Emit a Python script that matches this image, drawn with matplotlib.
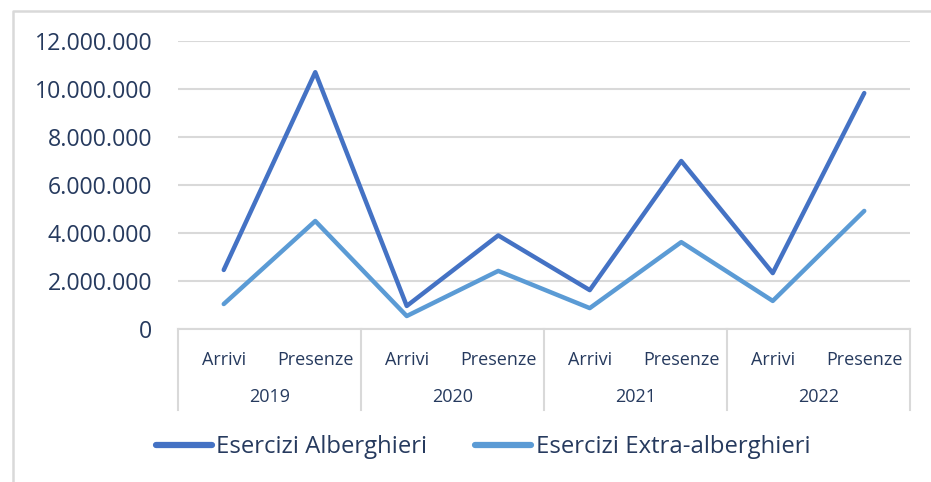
import matplotlib
matplotlib.use('Agg')
import matplotlib.pyplot as plt
from matplotlib.lines import Line2D
from matplotlib.ticker import FuncFormatter

# ===== DATA =====
years = ['2019', '2020', '2021', '2022']
measures = ['Arrivi', 'Presenze']
alberghieri = [2460000, 10700000, 960000, 3900000, 1620000, 7000000, 2330000, 9830000]
extra = [1040000, 4500000, 540000, 2420000, 870000, 3620000, 1170000, 4920000]
y_ticks = [0, 2000000, 4000000, 6000000, 8000000, 10000000, 12000000]

TEXT = '#263a5e'
GRID = '#d9d9d9'
C_ALB = '#4472c4'
C_EXT = '#5b9bd5'

plt.rcParams['font.family'] = ['Open Sans', 'DejaVu Sans']

W, H = 931, 482
fig = plt.figure(figsize=(W / 100, H / 100), dpi=100)

# chart frame (only top and left edges visible)
fig.add_artist(Line2D([13 / W, 13 / W, 1], [0, 1 - 11 / H, 1 - 11 / H],
                      transform=fig.transFigure, color=GRID, lw=1.8))

ax = fig.add_axes([178 / W, 1 - 329 / H, (910 - 178) / W, (329 - 41) / H])

labels = [m for _ in years for m in measures]
x = list(range(len(labels)))

ax.plot(x, alberghieri, color=C_ALB, lw=3.2, solid_joinstyle='round',
        solid_capstyle='round', label='Esercizi Alberghieri', zorder=3)
ax.plot(x, extra, color=C_EXT, lw=3.2, solid_joinstyle='round',
        solid_capstyle='round', label='Esercizi Extra-alberghieri', zorder=3)

ax.set_xlim(-0.5, len(labels) - 0.5)
ax.set_ylim(0, 12000000)
ax.set_yticks(y_ticks)
ax.yaxis.set_major_formatter(FuncFormatter(lambda v, p: f'{int(v):,}'.replace(',', '.')))
ax.grid(axis='y', color=GRID, lw=1.5)
ax.set_axisbelow(True)
for s in ['top', 'right', 'left']:
    ax.spines[s].set_visible(False)
ax.spines['bottom'].set_color(GRID)
ax.spines['bottom'].set_linewidth(1.5)
ax.tick_params(axis='y', length=0, pad=18.5, labelsize=16.7, labelcolor=TEXT)

ax.set_xticks(x)
ax.set_xticklabels(labels)
ax.tick_params(axis='x', length=0, pad=16, labelsize=13, labelcolor=TEXT)

# year groups with separators
trans = ax.get_xaxis_transform()
depth = (410 - 329) / (329 - 41)
for i in range(len(years) + 1):
    ax.add_line(Line2D([i * 2 - 0.5] * 2, [0, -depth], transform=trans,
                       color=GRID, lw=1.5, clip_on=False))
for i, yr in enumerate(years):
    ax.text(i * 2 + 0.5, -(397 - 329) / (329 - 41), yr, transform=trans,
            ha='center', va='center', fontsize=13, color=TEXT)

leg = fig.legend(loc='center', bbox_to_anchor=(483 / W, 1 - 447 / H), ncol=2,
                 frameon=False, fontsize=17.2, handlelength=2.35, handletextpad=0.18,
                 columnspacing=2.0)
for t in leg.get_texts():
    t.set_color(TEXT)
for l in leg.get_lines():
    l.set_linewidth(4.5)

fig.savefig('out.png', dpi=100)
